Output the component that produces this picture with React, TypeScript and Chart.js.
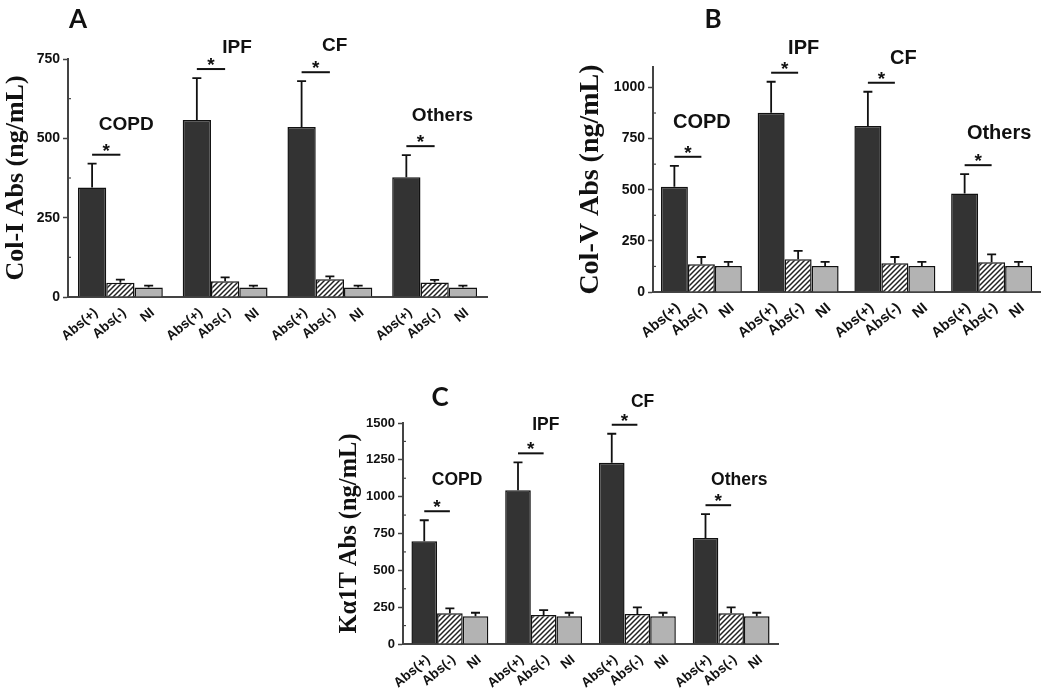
import React, { useEffect, useRef } from "react";
import { Chart, registerables } from "chart.js";

Chart.register(...registerables);

// ---------- data ----------
const groups = ["COPD", "IPF", "CF", "Others"];
const barLabels = ["Abs(+)", "Abs(-)", "NI"];

// Panel A: Col-I Abs (ng/mL)
const colIPos = [345, 558, 536, 377];
const colIPosErr = [75, 132, 144, 70];
const colINeg = [45, 50, 56, 46];
const colINegErr = [10, 12, 9, 8];
const colINI = [30, 30, 30, 30];
const colINIErr = [6, 6, 6, 6];

// Panel B: Col-V Abs (ng/mL)
const colVPos = [514, 876, 811, 481];
const colVPosErr = [103, 152, 168, 95];
const colVNeg = [136, 160, 140, 145];
const colVNegErr = [35, 41, 31, 39];
const colVNI = [127, 127, 127, 127];
const colVNIErr = [20, 20, 20, 20];

// Panel C: Kα1T Abs (ng/mL)
const kPos = [698, 1043, 1231, 720];
const kPosErr = [142, 190, 196, 161];
const kNeg = [208, 196, 203, 208];
const kNegErr = [34, 34, 46, 41];
const kNI = [188, 188, 188, 188];
const kNIErr = [24, 24, 24, 24];

const yTickStep = 250;

// ---------- helpers ----------
function makeHatch(ctx: CanvasRenderingContext2D) {
  const c = document.createElement("canvas");
  c.width = 5;
  c.height = 5;
  const g = c.getContext("2d")!;
  g.fillStyle = "#ffffff";
  g.fillRect(0, 0, 5, 5);
  g.strokeStyle = "#222222";
  g.lineWidth = 1.5;
  g.beginPath();
  g.moveTo(-1, 6);
  g.lineTo(6, -1);
  g.moveTo(-1, 1);
  g.lineTo(1, -1);
  g.moveTo(4, 6);
  g.lineTo(6, 4);
  g.stroke();
  return ctx.createPattern(c, "repeat")!;
}

const SANS = '"Liberation Sans", Arial, sans-serif';

const annotPlugin = {
  id: "annot",
  afterDatasetsDraw(chart: any, _args: any, opts: any) {
    const ctx: CanvasRenderingContext2D = chart.ctx;
    const y = chart.scales.y;
    const area = chart.chartArea;
    const metas = [0, 1, 2].map((i) => chart.getDatasetMeta(i));
    ctx.save();
    // error bars (upper only)
    chart.data.datasets.forEach((ds: any, i: number) => {
      metas[i].data.forEach((bar: any, j: number) => {
        const v = ds.data[j];
        const top = y.getPixelForValue(v + opts.errors[i][j]);
        ctx.strokeStyle = "#111";
        ctx.lineWidth = 1.8;
        ctx.beginPath();
        ctx.moveTo(bar.x, bar.y);
        ctx.lineTo(bar.x, top);
        ctx.moveTo(bar.x - 4.5, top);
        ctx.lineTo(bar.x + 4.5, top);
        ctx.stroke();
      });
    });
    // minor ticks
    ctx.strokeStyle = "#444";
    ctx.lineWidth = 1.2;
    for (let v = yTickStep / 2; v < y.max; v += yTickStep) {
      const py = y.getPixelForValue(v);
      ctx.beginPath();
      ctx.moveTo(area.left, py);
      ctx.lineTo(area.left + 3, py);
      ctx.stroke();
    }
    // x labels
    ctx.fillStyle = "#111";
    ctx.font = `bold ${opts.xLabelSize}px ${SANS}`;
    metas.forEach((meta: any, i: number) => {
      meta.data.forEach((bar: any) => {
        ctx.save();
        ctx.translate(bar.x + 4, area.bottom + 14);
        ctx.rotate((-40 * Math.PI) / 180);
        ctx.textAlign = "right";
        ctx.textBaseline = "middle";
        ctx.fillText(barLabels[i], 0, 0);
        ctx.restore();
      });
    });
    // significance brackets, stars and group labels
    const posDs = chart.data.datasets[0];
    metas[0].data.forEach((bar: any, j: number) => {
      const x1 = bar.x;
      const x2 = metas[1].data[j].x;
      const ly = y.getPixelForValue(posDs.data[j] + opts.errors[0][j]) - 9;
      ctx.strokeStyle = "#111";
      ctx.lineWidth = 2;
      ctx.beginPath();
      ctx.moveTo(x1, ly);
      ctx.lineTo(x2, ly);
      ctx.stroke();
      const cx = (x1 + x2) / 2;
      ctx.font = `bold 19px ${SANS}`;
      ctx.textAlign = "center";
      ctx.textBaseline = "alphabetic";
      ctx.fillStyle = "#111";
      ctx.fillText("*", cx, ly + 2);
      const off = opts.labelOffsets[j];
      ctx.font = `bold ${opts.groupSize}px ${SANS}`;
      ctx.textBaseline = "middle";
      ctx.fillText(groups[j], cx + off[0], ly + off[1]);
    });
    ctx.restore();
  },
};

type PanelProps = {
  left: number;
  top: number;
  width: number;
  height: number;
  pad: { top: number; right: number; bottom: number };
  axisW: number;
  titlePadTop: number;
  title: string;
  titleSize: number;
  max: number;
  tickSize: number;
  xLabelSize: number;
  groupSize: number;
  catPct: number;
  pos: number[];
  posErr: number[];
  neg: number[];
  negErr: number[];
  ni: number[];
  niErr: number[];
  labelOffsets: number[][];
};

function Panel(p: PanelProps) {
  const ref = useRef<HTMLCanvasElement>(null);
  useEffect(() => {
    const canvas = ref.current!;
    const ctx = canvas.getContext("2d")!;
    const hatch = makeHatch(ctx);
    const common = {
      borderColor: "#111111",
      borderWidth: 1.5,
      categoryPercentage: p.catPct,
      barPercentage: 1.0,
    };
    const chart = new Chart(canvas, {
      type: "bar",
      data: {
        labels: groups,
        datasets: [
          { ...common, label: barLabels[0], data: p.pos, backgroundColor: "#333333" },
          { ...common, label: barLabels[1], data: p.neg, backgroundColor: hatch as any },
          { ...common, label: barLabels[2], data: p.ni, backgroundColor: "#b3b3b3" },
        ],
      },
      options: {
        animation: false,
        responsive: false,
        maintainAspectRatio: false,
        layout: { padding: { left: 0, top: p.pad.top, right: p.pad.right, bottom: p.pad.bottom } },
        plugins: {
          legend: { display: false },
          tooltip: { enabled: false },
          annot: {
            errors: [p.posErr, p.negErr, p.niErr],
            labelOffsets: p.labelOffsets,
            xLabelSize: p.xLabelSize,
            groupSize: p.groupSize,
          },
        } as any,
        scales: {
          x: {
            type: "category",
            offset: true,
            grid: { display: false, drawTicks: false },
            ticks: { display: false },
            border: { display: true, color: "#444444", width: 2 },
            afterFit: (s: any) => {
              s.height = 0;
            },
          },
          y: {
            min: 0,
            max: p.max,
            ticks: {
              stepSize: yTickStep,
              includeBounds: false,
              color: "#111111",
              padding: 3,
              callback: (v: any) => String(v),
              font: { family: SANS, weight: "bold", size: p.tickSize },
            },
            grid: {
              display: true,
              drawOnChartArea: false,
              drawTicks: true,
              tickLength: 5,
              tickColor: "#444444",
              tickWidth: 1.5,
            },
            border: { display: true, color: "#444444", width: 2 },
            title: {
              display: true,
              text: p.title,
              color: "#111111",
              font: { family: '"Liberation Serif", "Times New Roman", serif', weight: "bold", size: p.titleSize },
              padding: { top: p.titlePadTop, bottom: 0 },
            },
            afterFit: (s: any) => {
              s.width = p.axisW;
            },
          },
        },
      } as any,
      plugins: [annotPlugin as any],
    });
    return () => chart.destroy();
  }, []);
  return (
    <canvas
      ref={ref}
      width={p.width}
      height={p.height}
      style={{ position: "absolute", left: p.left, top: p.top, width: p.width, height: p.height }}
    />
  );
}

const letterStyle = (x: number, y: number): React.CSSProperties => ({
  position: "absolute",
  left: x,
  top: y,
  transform: "translate(-50%, -50%)",
  font: 'bold 26px Lato, "Open Sans", sans-serif',
  lineHeight: 1,
  color: "#111",
});

export default function App() {
  return (
    <div style={{ position: "absolute", left: 0, top: 0, width: 1050, height: 693, background: "#fff", overflow: "hidden" }}>
      <Panel
        left={0}
        top={0}
        width={520}
        height={345}
        pad={{ top: 59, right: 33, bottom: 48 }}
        axisW={68}
        titlePadTop={1}
        title="Col-I Abs (ng/mL)"
        titleSize={26}
        max={750}
        tickSize={14}
        xLabelSize={13.5}
        groupSize={19}
        catPct={0.81}
        pos={colIPos}
        posErr={colIPosErr}
        neg={colINeg}
        negErr={colINegErr}
        ni={colINI}
        niErr={colINIErr}
        labelOffsets={[[20, -30], [26, -21], [19, -26], [22, -30]]}
      />
      <Panel
        left={560}
        top={0}
        width={490}
        height={345}
        pad={{ top: 67, right: 10, bottom: 53 }}
        axisW={93}
        titlePadTop={14}
        title="Col-V Abs (ng/mL)"
        titleSize={28}
        max={1100}
        tickSize={14}
        xLabelSize={14.5}
        groupSize={20}
        catPct={0.837}
        pos={colVPos}
        posErr={colVPosErr}
        neg={colVNeg}
        negErr={colVNegErr}
        ni={colVNI}
        niErr={colVNIErr}
        labelOffsets={[[14, -34], [19, -24], [22, -24], [21, -32]]}
      />
      <Panel
        left={320}
        top={350}
        width={480}
        height={343}
        pad={{ top: 73, right: 22, bottom: 49 }}
        axisW={83}
        titlePadTop={15}
        title="Kα1T Abs (ng/mL)"
        titleSize={24.5}
        max={1500}
        tickSize={13}
        xLabelSize={13.5}
        groupSize={17.5}
        catPct={0.82}
        pos={kPos}
        posErr={kPosErr}
        neg={kNeg}
        negErr={kNegErr}
        ni={kNI}
        niErr={kNIErr}
        labelOffsets={[[20, -31], [15, -28], [18, -23], [21, -25]]}
      />
      <div style={letterStyle(78, 18)}>A</div>
      <div style={letterStyle(713, 18)}>B</div>
      <div style={letterStyle(440, 396)}>C</div>
    </div>
  );
}
